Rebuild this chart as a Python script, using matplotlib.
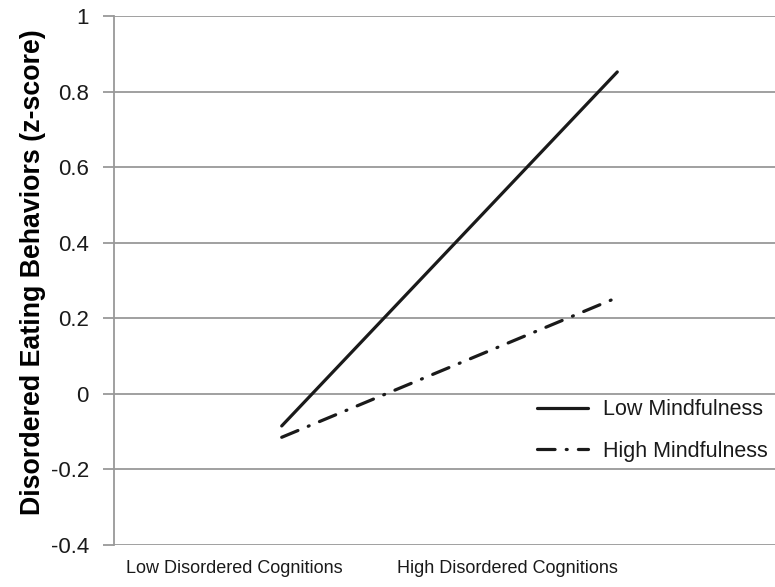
import matplotlib
matplotlib.use("Agg")
import matplotlib.pyplot as plt

categories = ["Low Disordered Cognitions", "High Disordered Cognitions"]
low_mind = [-0.085, 0.852]
high_mind = [-0.115, 0.255]
yticks = [-0.4, -0.2, 0, 0.2, 0.4, 0.6, 0.8, 1]
ytick_labels = ["-0.4", "-0.2", "0", "0.2", "0.4", "0.6", "0.8", "1"]

plt.rcParams['font.family'] = ['Liberation Sans', 'DejaVu Sans']

fig = plt.figure(figsize=(7.75, 5.87), dpi=100)
ax = fig.add_axes([0.147, 0.0716, 0.853, 0.9011])

x = [0, 1]
ax.plot(x, low_mind, color="#1a1a1a", lw=2.3, solid_capstyle="round", label="Low Mindfulness")
ax.plot(x, high_mind, color="#1a1a1a", lw=2.3, dash_capstyle="round",
        linestyle=(0, (5.5, 3.5, 0.3, 3.5)), label="High Mindfulness")

ax.set_xlim(-0.5, 1.47)
ax.set_ylim(-0.4, 1)
ax.set_yticks(yticks)
ax.set_yticklabels(ytick_labels)
ax.set_xticks([-0.14, 0.674])
ax.set_xticklabels(categories)
ax.tick_params(axis="x", length=0, pad=11, labelsize=13, colors="#1a1a1a")
ax.tick_params(axis="y", length=8, width=1.3, color="#999999", pad=10, labelsize=16, labelcolor="#1a1a1a")
ax.yaxis.grid(True, color="#999999", lw=1.3)
ax.set_axisbelow(True)
for s in ["top", "right", "bottom"]:
    ax.spines[s].set_visible(False)
ax.spines["left"].set_color("#999999")
ax.spines["left"].set_linewidth(1.3)

ax.set_ylabel("Disordered Eating Behaviors (z-score)", fontsize=19.3, fontweight="bold")
ax.yaxis.set_label_coords(-0.1026, 0.515)

leg = ax.legend(loc="center left", bbox_to_anchor=(0.64, 0.216), frameon=False, fontsize=15.5,
                handlelength=2.35, handletextpad=0.7, labelspacing=0.95, borderpad=0, borderaxespad=0)
for t in leg.get_texts():
    t.set_color("#1a1a1a")

fig.savefig("out.png", dpi=100)
